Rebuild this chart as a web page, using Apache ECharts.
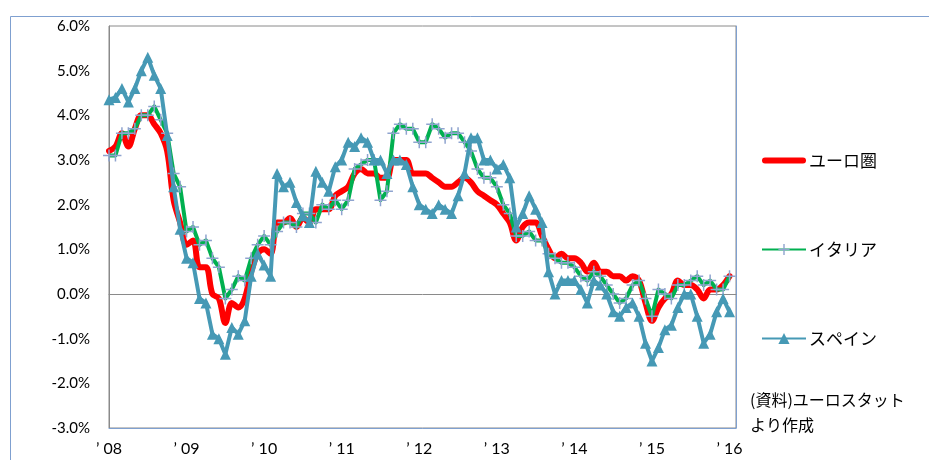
<!DOCTYPE html>
<html>
<head>
<meta charset="utf-8">
<script src="https://cdn.jsdelivr.net/npm/echarts@6/dist/echarts.min.js"></script>
<style>
  html, body { margin: 0; padding: 0; background: #ffffff; }
  #chart { width: 929px; height: 460px; }
</style>
</head>
<body>
<div id="chart"></div>
<script>
// Monthly categories: Jan 2008 .. Feb 2016 (last month has no value yet)
const startYear = 2008;
const monthCount = 98;
const months = [];
for (let k = 0; k < monthCount; k++) {
  const y = startYear + Math.floor(k / 12);
  const m = (k % 12) + 1;
  months.push(y + '-' + (m < 10 ? '0' + m : m));
}
const yearLabels = ['’ 08', '’ 09', '’ 10', '’ 11', '’ 12', '’ 13', '’ 14', '’ 15', '’ 16'];

// HICP, year-on-year change (%)
const euroArea = [
  3.2, 3.3, 3.6, 3.3, 3.7, 4.0, 4.0, 3.8, 3.6, 3.2, 2.1, 1.6,
  1.1, 1.2, 0.6, 0.6, 0.0, -0.1, -0.65, -0.2, -0.3, -0.1, 0.5, 0.9,
  1.0, 0.9, 1.6, 1.6, 1.7, 1.5, 1.7, 1.6, 1.9, 1.9, 1.9, 2.2,
  2.3, 2.4, 2.7, 2.8, 2.7, 2.7, 2.6, 2.6, 3.0, 3.0, 3.0, 2.7,
  2.7, 2.7, 2.6, 2.5, 2.4, 2.4, 2.5, 2.6, 2.5, 2.3, 2.2, 2.1,
  2.0, 1.8, 1.6, 1.2, 1.5, 1.6, 1.6, 1.3, 1.0, 0.8, 0.9, 0.8,
  0.8, 0.7, 0.5, 0.7, 0.5, 0.5, 0.4, 0.4, 0.3, 0.4, 0.3, -0.2,
  -0.6, -0.3, -0.1, 0.0, 0.3, 0.2, 0.2, 0.1, -0.1, 0.1, 0.1, 0.2,
  0.4
];
const italy = [
  3.1, 3.1, 3.6, 3.6, 3.7, 4.0, 4.0, 4.2, 3.9, 3.6, 2.7, 2.4,
  1.4, 1.5, 1.1, 1.2, 0.8, 0.6, -0.1, 0.1, 0.4, 0.3, 0.8, 1.1,
  1.3, 1.1, 1.4, 1.6, 1.6, 1.5, 1.8, 1.8, 1.6, 2.0, 1.9, 2.1,
  1.9, 2.1, 2.8, 2.9, 3.0, 3.0, 2.1, 2.3, 3.6, 3.8, 3.7, 3.7,
  3.4, 3.4, 3.8, 3.7, 3.5, 3.6, 3.6, 3.4, 3.2, 2.8, 2.6, 2.6,
  2.4, 2.0, 1.8, 1.3, 1.3, 1.4, 1.2, 1.2, 0.9, 0.8, 0.7, 0.7,
  0.6, 0.4, 0.3, 0.5, 0.4, 0.2, 0.0, -0.2, -0.1, 0.2, 0.3, -0.1,
  -0.5, 0.1, 0.0, -0.1, 0.2, 0.2, 0.3, 0.4, 0.2, 0.3, 0.1, 0.1,
  0.4
];
const spain = [
  4.35, 4.4, 4.6, 4.3, 4.6, 5.0, 5.3, 4.9, 4.6, 3.55, 2.4, 1.45,
  0.8, 0.7, -0.1, -0.2, -0.9, -1.0, -1.35, -0.75, -0.9, -0.6, 0.4, 0.9,
  0.65, 0.4, 2.7, 2.4, 2.5, 2.05, 1.75, 1.6, 2.75, 2.5, 2.3, 2.85,
  3.0, 3.4, 3.3, 3.5, 3.4, 3.0, 3.0, 2.7, 3.0, 3.0, 2.9, 2.4,
  2.0, 1.9, 1.8, 2.0, 1.9, 1.8, 2.2, 2.7, 3.5, 3.5, 3.0, 3.0,
  2.8, 2.9, 2.6, 1.5, 1.8, 2.2, 1.9, 1.6, 0.5, 0.0, 0.3, 0.3,
  0.3, 0.1, -0.2, 0.3, 0.2, 0.0, -0.4, -0.5, -0.3, -0.2, -0.5, -1.1,
  -1.5, -1.2, -0.8, -0.7, -0.3, 0.0, 0.0, -0.5, -1.1, -0.9, -0.4, -0.1,
  -0.4
];

const seriesNames = ['ユーロ圏', 'イタリア', 'スペイン'];
const sourceNote = ['(資料)ユーロスタット', 'より作成'];

const latin = 'Lato, "Liberation Sans", sans-serif';
const cjk = '"Noto Sans CJK JP", Lato, sans-serif';
const plusPath = 'path://M-0.75,-6h1.5v5.25h5.25v1.5h-5.25v5.25h-1.5v-5.25h-5.25v-1.5h5.25z';
// plain thick bar with rounded ends for the smooth line's legend key
const barIcon = 'path://M3,0h38a3,3 0 0 1 0,6h-38a3,3 0 0 1 0,-6z';

const chart = echarts.init(document.getElementById('chart'), null, { renderer: 'canvas' });

chart.setOption({
  animation: false,
  backgroundColor: '#ffffff',
  grid: {
    left: 109, right: 193, top: 26, bottom: 32,
    show: true, borderColor: '#8a8a8a', borderWidth: 1, backgroundColor: 'transparent'
  },
  graphic: [
    {
      type: 'rect', left: 8, top: 14, z: -10, silent: true,
      shape: { width: 1000, height: 600 },
      style: { fill: 'none', stroke: '#7fa0d0', lineWidth: 1 }
    },
    {
      type: 'text', left: 750, top: 387, silent: true,
      style: {
        text: sourceNote.join('\n'), font: '16px ' + cjk, fill: '#000000', lineHeight: 25
      }
    }
  ],
  legend: {
    orient: 'vertical', left: 761, top: 152, padding: 0,
    itemWidth: 44, itemHeight: 14, itemGap: 72,
    symbolKeepAspect: true,
    textStyle: { fontFamily: cjk, fontSize: 17, color: '#000000', padding: [0, 0, 0, -2] },
    data: [
      { name: seriesNames[0], icon: barIcon },
      { name: seriesNames[1] },
      { name: seriesNames[2] }
    ]
  },
  xAxis: [
    {
      type: 'category', data: months, boundaryGap: false,
      axisLine: { onZero: false, lineStyle: { color: '#7fa0d0', width: 1 } },
      axisTick: { show: false },
      splitLine: { show: false },
      axisLabel: {
        interval: 0, margin: 13, color: '#000000', fontFamily: latin, fontSize: 16,
        formatter: function (v, idx) {
          return idx % 12 === 0 ? yearLabels[idx / 12] : '';
        }
      }
    },
    {
      // zero line
      type: 'category', data: months, boundaryGap: false, position: 'bottom',
      axisLine: { onZero: true, lineStyle: { color: '#8a8a8a', width: 1 } },
      axisTick: { show: false }, axisLabel: { show: false }, splitLine: { show: false }
    }
  ],
  yAxis: [
    {
      type: 'value', min: -3, max: 6, interval: 1,
      axisLine: { show: true, lineStyle: { color: '#8a8a8a' } },
      axisTick: { show: false },
      splitLine: { show: false },
      axisLabel: {
        margin: 19, color: '#000000', fontFamily: latin, fontSize: 15,
        formatter: v => v.toFixed(1) + '%'
      }
    },
    {
      type: 'value', min: -3, max: 6, interval: 1, position: 'right',
      axisLine: { show: true, lineStyle: { color: '#7fa0d0' } },
      axisTick: { show: false }, axisLabel: { show: false }, splitLine: { show: false }
    }
  ],
  series: [
    {
      name: seriesNames[0], type: 'line', data: euroArea, z: 2,
      smooth: 0.35, symbol: 'none',
      lineStyle: { color: '#ff0000', width: 6, cap: 'round', join: 'round' },
      itemStyle: { color: '#ff0000' }
    },
    {
      name: seriesNames[1], type: 'line', data: italy, z: 3,
      symbol: plusPath, symbolSize: 12, showAllSymbol: true,
      lineStyle: { color: '#00b050', width: 4, join: 'round' },
      itemStyle: { color: '#8fa4cf' }
    },
    {
      name: seriesNames[2], type: 'line', data: spain, z: 4,
      symbol: 'triangle', symbolSize: 11, showAllSymbol: true,
      lineStyle: { color: '#4699b5', width: 4, join: 'round' },
      itemStyle: { color: '#4699b5' }
    }
  ]
});
</script>
</body>
</html>
